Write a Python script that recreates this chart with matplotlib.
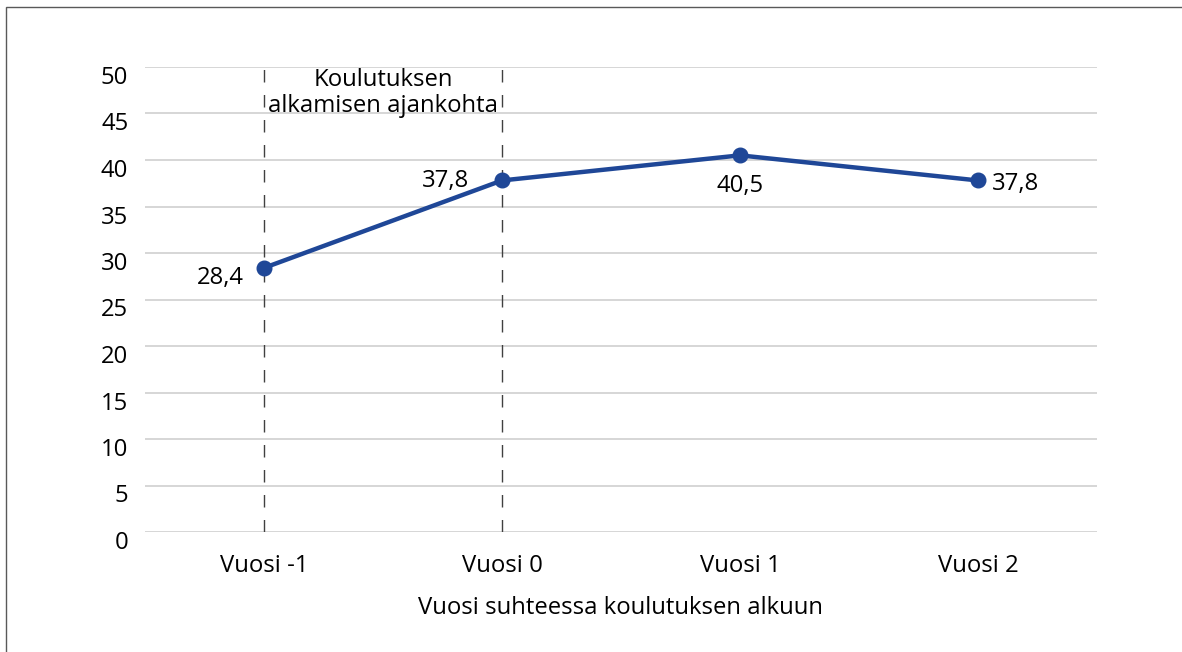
import matplotlib
matplotlib.use("Agg")
import matplotlib.pyplot as plt
import matplotlib.transforms as mtransforms
from matplotlib.patches import Rectangle

plt.rcParams['font.family'] = ['Open Sans', 'DejaVu Sans']

categories = ['Vuosi -1', 'Vuosi 0', 'Vuosi 1', 'Vuosi 2']
values = [28.4, 37.8, 40.5, 37.8]
value_labels = ['28,4', '37,8', '40,5', '37,8']
yticks = [0, 5, 10, 15, 20, 25, 30, 35, 40, 45, 50]
marker_lines = [0, 1]  # dashed lines at Vuosi -1 and Vuosi 0

fig = plt.figure(figsize=(11.82, 6.52), dpi=100)
ax = fig.add_axes([145 / 1182, 120 / 652, 952 / 1182, 465 / 652])

# frame around the figure (only top/left visible in the crop)
fig.patches.append(Rectangle((6 / 1182, -0.1), 1.2, 1 - 7 / 652 + 0.1,
                             transform=fig.transFigure, fill=False,
                             edgecolor='#595959', linewidth=1.0))

x = list(range(len(categories)))
ax.set_xlim(-0.5, len(categories) - 0.5)
ax.set_ylim(0, 50)

for y in yticks:
    ax.axhline(y, color='#d0d0d0', linewidth=1.2, zorder=0)

for xv in marker_lines:
    ax.plot([xv, xv], [0, 50], color='#404040', linewidth=1.0,
            linestyle=(0, (9, 9)), zorder=1)

ax.plot(x, values, color='#1f4797', linewidth=3.2, marker='o',
        markersize=10.5, zorder=3)

fs = 17.2
offsets = [(-20, -10, 'right'), (-33, -1, 'right'), (0, -31, 'center'), (14, -4, 'left')]
for xi, v, lab, (dx, dy, ha) in zip(x, values, value_labels, offsets):
    ax.annotate(lab, (xi, v), xytext=(dx, dy), textcoords='offset pixels',
                ha=ha, va='center', fontsize=fs, color='black')

ax.text(0.5, 47.2, 'Koulutuksen\nalkamisen ajankohta', ha='center', va='center',
        fontsize=fs, linespacing=1.12, color='black')

ax.set_xticks(x)
ax.set_xticklabels(categories, fontsize=fs)
ax.set_yticks(yticks)
ax.set_yticklabels([str(t) for t in yticks], fontsize=fs)
ax.tick_params(axis='both', length=0)
ax.tick_params(axis='x', pad=16)
ax.tick_params(axis='y', pad=12)
shift = mtransforms.ScaledTranslation(0, -8 / 100, fig.dpi_scale_trans)
for lbl in ax.get_yticklabels():
    lbl.set_transform(lbl.get_transform() + shift)

ax.set_xlabel('Vuosi suhteessa koulutuksen alkuun', fontsize=fs, labelpad=13)

for s in ax.spines.values():
    s.set_visible(False)

fig.savefig('out.png', dpi=100)
